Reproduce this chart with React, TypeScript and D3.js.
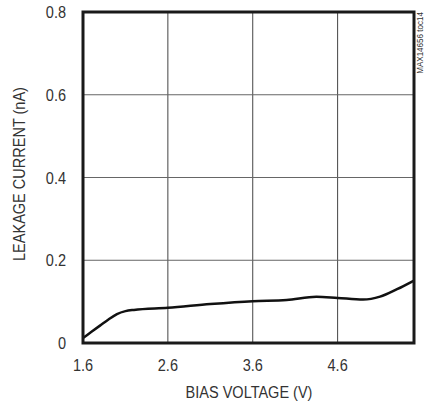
import React from "react";
import * as d3 from "d3";

const biasVoltage = [1.6, 1.7, 1.8, 1.9, 2.0, 2.1, 2.2, 2.6, 3.1, 3.6, 4.0, 4.35, 4.6, 4.9, 5.1, 5.3, 5.5];
const leakageCurrent = [0.012, 0.027, 0.042, 0.057, 0.07, 0.077, 0.08, 0.085, 0.094, 0.101, 0.104, 0.112, 0.109, 0.105, 0.112, 0.13, 0.151];
const xTicks = [1.6, 2.6, 3.6, 4.6];
const yTicks = [0, 0.2, 0.4, 0.6, 0.8];

const W = 425, H = 402;
const L = 83, T = 12, R = 414, B = 343;
const FONT = "'Liberation Sans', Arial, Helvetica, sans-serif";

export default function App() {
  const x = d3.scaleLinear().domain([1.6, 5.5]).range([L, R]);
  const y = d3.scaleLinear().domain([0, 0.8]).range([B, T]);
  const pts: [number, number][] = biasVoltage.map((v, i) => [v, leakageCurrent[i]]);
  const line = d3.line<[number, number]>()
    .x(d => x(d[0]))
    .y(d => y(d[1]))
    .curve(d3.curveMonotoneX);

  return (
    <svg width={W} height={H} style={{ position: "absolute", left: 0, top: 0 }}>
      <rect width={W} height={H} fill="#fff" />
      {xTicks.slice(1).map(t => (
        <line key={"vx" + t} x1={x(t)} x2={x(t)} y1={T} y2={B} stroke="#444" strokeWidth={1} />
      ))}
      {yTicks.slice(1, -1).map(t => (
        <line key={"hy" + t} x1={L} x2={R} y1={y(t)} y2={y(t)} stroke="#666" strokeWidth={1} />
      ))}
      <path d={line(pts) || ""} fill="none" stroke="#111" strokeWidth={2.5} strokeLinejoin="round" />
      <rect x={L} y={T} width={R - L} height={B - T} fill="none" stroke="#1a1a1a" strokeWidth={3} />
      {xTicks.map(t => (
        <text key={"xt" + t} transform={`translate(${x(t)},${371}) scale(0.88,1)`} textAnchor="middle"
          fontFamily={FONT} fontSize={16.5} fill="#333">{t.toFixed(1)}</text>
      ))}
      {yTicks.map(t => (
        <text key={"yt" + t} transform={`translate(${66},${y(t) + 6}) scale(0.88,1)`} textAnchor="end"
          fontFamily={FONT} fontSize={16.5} fill="#333">{t === 0 ? "0" : t.toFixed(1)}</text>
      ))}
      <text transform={`translate(${(L + R) / 2 + 0.5},${398}) scale(0.88,1)`} textAnchor="middle"
        fontFamily={FONT} fontSize={16.5} fill="#333">BIAS VOLTAGE (V)</text>
      <text transform={`translate(${25},${174}) rotate(-90) scale(0.88,1)`} textAnchor="middle"
        fontFamily={FONT} fontSize={16.5} fill="#333">LEAKAGE CURRENT (nA)</text>
      <text transform={`translate(${423},${12}) rotate(-90) scale(0.85,1)`} textAnchor="end"
        fontFamily={FONT} fontSize={9.5} fill="#333">MAX14656 toc14</text>
    </svg>
  );
}
